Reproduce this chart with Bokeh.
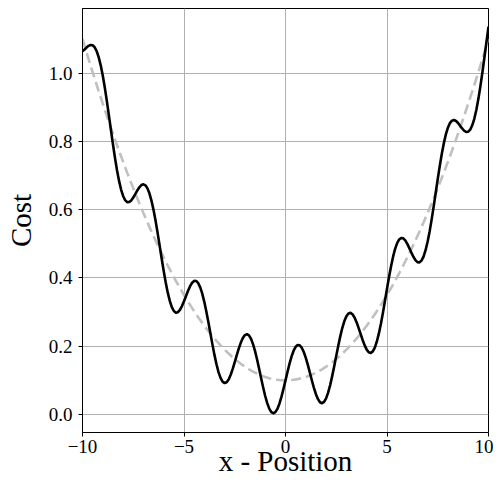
from bokeh.plotting import figure
from bokeh.models import Range1d, FixedTicker
from bokeh.embed import file_html
from bokeh.resources import INLINE

# x positions of the cost curve (-10 .. 10, step 0.1)
cost_x = [-10.0, -9.9, -9.8, -9.7, -9.6, -9.5, -9.4, -9.3, -9.2, -9.1,
          -9.0, -8.9, -8.8, -8.7, -8.6, -8.5, -8.4, -8.3, -8.2, -8.1,
          -8.0, -7.9, -7.8, -7.7, -7.6, -7.5, -7.4, -7.3, -7.2, -7.1,
          -7.0, -6.9, -6.8, -6.7, -6.6, -6.5, -6.4, -6.3, -6.2, -6.1,
          -6.0, -5.9, -5.8, -5.7, -5.6, -5.5, -5.4, -5.3, -5.2, -5.1,
          -5.0, -4.9, -4.8, -4.7, -4.6, -4.5, -4.4, -4.3, -4.2, -4.1,
          -4.0, -3.9, -3.8, -3.7, -3.6, -3.5, -3.4, -3.3, -3.2, -3.1,
          -3.0, -2.9, -2.8, -2.7, -2.6, -2.5, -2.4, -2.3, -2.2, -2.1,
          -2.0, -1.9, -1.8, -1.7, -1.6, -1.5, -1.4, -1.3, -1.2, -1.1,
          -1.0, -0.9, -0.8, -0.7, -0.6, -0.5, -0.4, -0.3, -0.2, -0.1,
          0.0,
          0.1, 0.2, 0.3, 0.4, 0.5, 0.6, 0.7, 0.8, 0.9, 1.0,
          1.1, 1.2, 1.3, 1.4, 1.5, 1.6, 1.7, 1.8, 1.9, 2.0,
          2.1, 2.2, 2.3, 2.4, 2.5, 2.6, 2.7, 2.8, 2.9, 3.0,
          3.1, 3.2, 3.3, 3.4, 3.5, 3.6, 3.7, 3.8, 3.9, 4.0,
          4.1, 4.2, 4.3, 4.4, 4.5, 4.6, 4.7, 4.8, 4.9, 5.0,
          5.1, 5.2, 5.3, 5.4, 5.5, 5.6, 5.7, 5.8, 5.9, 6.0,
          6.1, 6.2, 6.3, 6.4, 6.5, 6.6, 6.7, 6.8, 6.9, 7.0,
          7.1, 7.2, 7.3, 7.4, 7.5, 7.6, 7.7, 7.8, 7.9, 8.0,
          8.1, 8.2, 8.3, 8.4, 8.5, 8.6, 8.7, 8.8, 8.9, 9.0,
          9.1, 9.2, 9.3, 9.4, 9.5, 9.6, 9.7, 9.8, 9.9, 10.0]

# oscillating cost curve (black)
cost = [1.0641, 1.0689, 1.0746, 1.0796, 1.0823, 1.0813, 1.0754, 1.0637, 1.0459, 1.0218,
        0.9918, 0.9568, 0.9178, 0.8762, 0.8335, 0.7914, 0.7515, 0.7154, 0.6842, 0.6588,
        0.6400, 0.6279, 0.6221, 0.6222, 0.6270, 0.6353, 0.6456, 0.6562, 0.6654, 0.6719,
        0.6741, 0.6711, 0.6622, 0.6470, 0.6257, 0.5987, 0.5671, 0.5319, 0.4946, 0.4569,
        0.4203, 0.3865, 0.3569, 0.3327, 0.3146, 0.3031, 0.2982, 0.2996, 0.3065, 0.3176,
        0.3317, 0.3472, 0.3625, 0.3758, 0.3858, 0.3912, 0.3911, 0.3849, 0.3724, 0.3538,
        0.3300, 0.3018, 0.2706, 0.2379, 0.2054, 0.1746, 0.1471, 0.1242, 0.1071, 0.0962,
        0.0921, 0.0944, 0.1028, 0.1163, 0.1336, 0.1533, 0.1739, 0.1935, 0.2107, 0.2242,
        0.2326, 0.2352, 0.2317, 0.2219, 0.2062, 0.1857, 0.1612, 0.1342, 0.1062, 0.0791,
        0.0542, 0.0332, 0.0172, 0.0072, 0.0037, 0.0068, 0.0164, 0.0316, 0.0516, 0.0749,
        0.1000,
        0.1253, 0.1492, 0.1702, 0.1868, 0.1982, 0.2035, 0.2026, 0.1956, 0.1830, 0.1658,
        0.1451, 0.1226, 0.0996, 0.0780, 0.0593, 0.0450, 0.0359, 0.0331, 0.0370, 0.0474,
        0.0640, 0.0861, 0.1123, 0.1413, 0.1717, 0.2016, 0.2295, 0.2540, 0.2738, 0.2879,
        0.2960, 0.2977, 0.2936, 0.2841, 0.2704, 0.2538, 0.2359, 0.2182, 0.2024, 0.1900,
        0.1824, 0.1804, 0.1849, 0.1961, 0.2138, 0.2374, 0.2660, 0.2983, 0.3330, 0.3683,
        0.4026, 0.4343, 0.4622, 0.4850, 0.5019, 0.5126, 0.5171, 0.5159, 0.5097, 0.4997,
        0.4873, 0.4742, 0.4619, 0.4521, 0.4463, 0.4455, 0.4508, 0.4626, 0.4811, 0.5059,
        0.5363, 0.5714, 0.6096, 0.6496, 0.6897, 0.7282, 0.7636, 0.7947, 0.8203, 0.8400,
        0.8534, 0.8606, 0.8624, 0.8597, 0.8536, 0.8457, 0.8376, 0.8310, 0.8274, 0.8282,
        0.8344, 0.8469, 0.8661, 0.8918, 0.9237, 0.9609, 1.0022, 1.0462, 1.0913, 1.1359]

# x positions of the underlying bowl (-10 .. 10, step 0.2)
bowl_x = [-10.0, -9.8, -9.6, -9.4, -9.2, -9.0, -8.8, -8.6, -8.4, -8.2,
          -8.0, -7.8, -7.6, -7.4, -7.2, -7.0, -6.8, -6.6, -6.4, -6.2,
          -6.0, -5.8, -5.6, -5.4, -5.2, -5.0, -4.8, -4.6, -4.4, -4.2,
          -4.0, -3.8, -3.6, -3.4, -3.2, -3.0, -2.8, -2.6, -2.4, -2.2,
          -2.0, -1.8, -1.6, -1.4, -1.2, -1.0, -0.8, -0.6, -0.4, -0.2,
          0.0, 0.2, 0.4, 0.6, 0.8, 1.0, 1.2, 1.4, 1.6, 1.8,
          2.0, 2.2, 2.4, 2.6, 2.8, 3.0, 3.2, 3.4, 3.6, 3.8,
          4.0, 4.2, 4.4, 4.6, 4.8, 5.0, 5.2, 5.4, 5.6, 5.8,
          6.0, 6.2, 6.4, 6.6, 6.8, 7.0, 7.2, 7.4, 7.6, 7.8,
          8.0, 8.2, 8.4, 8.6, 8.8, 9.0, 9.2, 9.4, 9.6, 9.8, 10.0]

# smooth underlying bowl (grey dashed)
bowl = [1.1, 1.0604, 1.0216, 0.9836, 0.9464, 0.91, 0.8744, 0.8396, 0.8056, 0.7724,
        0.74, 0.7084, 0.6776, 0.6476, 0.6184, 0.59, 0.5624, 0.5356, 0.5096, 0.4844,
        0.46, 0.4364, 0.4136, 0.3916, 0.3704, 0.35, 0.3304, 0.3116, 0.2936, 0.2764,
        0.26, 0.2444, 0.2296, 0.2156, 0.2024, 0.19, 0.1784, 0.1676, 0.1576, 0.1484,
        0.14, 0.1324, 0.1256, 0.1196, 0.1144, 0.11, 0.1064, 0.1036, 0.1016, 0.1004,
        0.1,
        0.1004, 0.1016, 0.1036, 0.1064, 0.11, 0.1144, 0.1196, 0.1256, 0.1324, 0.14,
        0.1484, 0.1576, 0.1676, 0.1784, 0.19, 0.2024, 0.2156, 0.2296, 0.2444, 0.26,
        0.2764, 0.2936, 0.3116, 0.3304, 0.35, 0.3704, 0.3916, 0.4136, 0.4364, 0.46,
        0.4844, 0.5096, 0.5356, 0.5624, 0.59, 0.6184, 0.6476, 0.6776, 0.7084, 0.74,
        0.7724, 0.8056, 0.8396, 0.8744, 0.91, 0.9464, 0.9836, 1.0216, 1.0604, 1.1]

x_ticks = [-10, -5, 0, 5, 10]
x_tick_labels = ["\u221210", "\u22125", "0", "5", "10"]
y_ticks = [0.0, 0.2, 0.4, 0.6, 0.8, 1.0]
y_tick_labels = ["0.0", "0.2", "0.4", "0.6", "0.8", "1.0"]

FONT = "Liberation Serif"

p = figure(width=493, height=483, output_backend="svg", toolbar_location=None,
           x_range=Range1d(-10, 10), y_range=Range1d(-0.0527, 1.189),
           min_border_left=82, min_border_right=5, min_border_top=8, min_border_bottom=51)

p.background_fill_color = "white"
p.border_fill_color = "white"
p.outline_line_color = "black"
p.outline_line_width = 1

p.line(bowl_x, bowl, line_color="#c0c0c0", line_width=2.6, line_dash="10 5")
p.line(cost_x, cost, line_color="black", line_width=2.6, line_join="round")

p.xaxis.ticker = FixedTicker(ticks=x_ticks)
p.yaxis.ticker = FixedTicker(ticks=y_ticks)
p.xaxis.major_label_overrides = {t: l for t, l in zip(x_ticks, x_tick_labels)}
p.yaxis.major_label_overrides = {t: l for t, l in zip(y_ticks, y_tick_labels)}

for ax in (p.xaxis, p.yaxis):
    ax.axis_line_color = "black"
    ax.axis_line_width = 1
    ax.major_tick_line_color = "black"
    ax.major_tick_in = 0
    ax.major_tick_out = 4
    ax.minor_tick_line_color = None
    ax.major_label_text_font = FONT
    ax.major_label_text_font_size = "19px"
    ax.major_label_text_color = "black"
    ax.axis_label_text_font = FONT
    ax.axis_label_text_font_size = "29px"
    ax.axis_label_text_font_style = "normal"
    ax.axis_label_text_color = "black"

p.xaxis.axis_label = "x - Position"
p.yaxis.axis_label = "Cost"
p.xaxis.major_label_standoff = 3
p.xaxis.axis_label_standoff = -11
p.yaxis.major_label_standoff = 6
p.yaxis.axis_label_standoff = 9

p.xgrid.ticker = FixedTicker(ticks=x_ticks)
p.ygrid.ticker = FixedTicker(ticks=y_ticks)
for g in (p.xgrid, p.ygrid):
    g.grid_line_color = "#b0b0b0"
    g.grid_line_width = 1

open("out.html", "w").write(file_html(p, INLINE))
